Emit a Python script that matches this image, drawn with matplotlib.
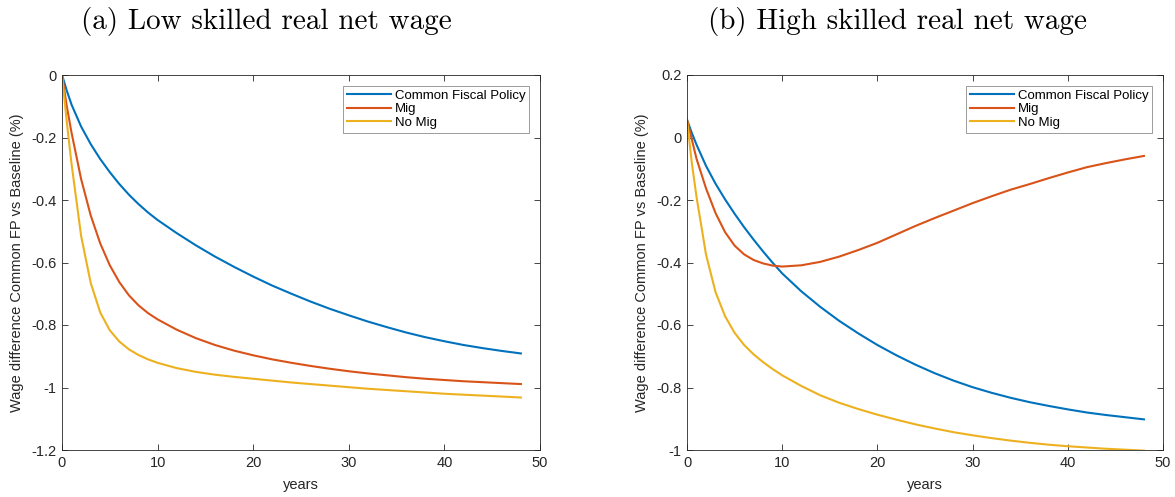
import numpy as np
import matplotlib
matplotlib.use("Agg")
from matplotlib import pyplot as plt
from matplotlib.ticker import FuncFormatter, MultipleLocator

plt.rcParams["font.family"] = ["Liberation Sans", "DejaVu Sans"]
plt.rcParams["axes.unicode_minus"] = False

years = [0, 0.5, 1, 2, 3, 4, 5, 6, 7, 8, 9, 10, 12, 14, 16, 18, 20, 22, 24, 26, 28,
         30, 32, 34, 36, 38, 40, 42, 44, 46, 48]

# (a) low skilled
low_cfp = [0, -0.05, -0.095, -0.165, -0.221, -0.269, -0.311, -0.349, -0.383, -0.413, -0.44, -0.464,
           -0.506, -0.545, -0.581, -0.614, -0.645, -0.674, -0.70, -0.725, -0.748,
           -0.769, -0.789, -0.807, -0.824, -0.839, -0.852, -0.864, -0.874, -0.883, -0.891]
low_mig = [0, -0.10, -0.185, -0.333, -0.449, -0.539, -0.609, -0.663, -0.705, -0.737, -0.762, -0.782,
           -0.815, -0.842, -0.864, -0.882, -0.897, -0.91, -0.921, -0.931, -0.94,
           -0.948, -0.955, -0.961, -0.967, -0.972, -0.976, -0.98, -0.983, -0.986, -0.989]
low_nomig = [0, -0.15, -0.285, -0.515, -0.665, -0.76, -0.817, -0.853, -0.878, -0.896, -0.91, -0.921,
             -0.938, -0.95, -0.959, -0.966, -0.972, -0.978, -0.984, -0.989, -0.994,
             -0.999, -1.004, -1.008, -1.012, -1.016, -1.02, -1.023, -1.026, -1.029, -1.032]

# (b) high skilled
high_cfp = [0.057, 0.015, -0.023, -0.091, -0.148, -0.198, -0.244, -0.287, -0.327, -0.365, -0.401, -0.435,
            -0.492, -0.542, -0.587, -0.627, -0.664, -0.697, -0.727, -0.754, -0.778,
            -0.799, -0.817, -0.833, -0.847, -0.859, -0.87, -0.88, -0.888, -0.895, -0.902]
high_mig = [0.057, -0.005, -0.068, -0.163, -0.242, -0.303, -0.346, -0.374, -0.392, -0.403, -0.41, -0.413,
            -0.409, -0.398, -0.381, -0.36, -0.337, -0.31, -0.283, -0.258, -0.234,
            -0.21, -0.188, -0.167, -0.149, -0.13, -0.112, -0.095, -0.082, -0.07, -0.059]
high_nomig = [0.057, -0.08, -0.19, -0.375, -0.495, -0.572, -0.625, -0.664, -0.694, -0.719, -0.741, -0.761,
              -0.795, -0.825, -0.849, -0.869, -0.887, -0.903, -0.918, -0.931, -0.943,
              -0.953, -0.962, -0.97, -0.977, -0.983, -0.988, -0.992, -0.996, -0.999, -1.002]

labels = ["Common Fiscal Policy", "Mig", "No Mig"]
colors = ["#0072BD", "#D95319", "#EDB120"]
titles = ["(a) Low skilled real net wage", "(b) High skilled real net wage"]
ylabel = "Wage difference Common FP vs Baseline (%)"

fig = plt.figure(figsize=(11.75, 4.97), dpi=100)
ax_a = fig.add_axes([62 / 1175, 47 / 497, 478 / 1175, 375 / 497])
ax_b = fig.add_axes([687 / 1175, 47 / 497, 476 / 1175, 375 / 497])

panels = [
    (ax_a, [low_cfp, low_mig, low_nomig], (-1.2, 0)),
    (ax_b, [high_cfp, high_mig, high_nomig], (-1.0, 0.2)),
]

fmt = FuncFormatter(lambda v, p: "%g" % round(v, 2))
edge = "#262626"

for ax, series, ylim in panels:
    for vals, lab, col in zip(series, labels, colors):
        ax.plot(years, vals, color=col, lw=1.5, label=lab)
    ax.set_xlim(0, 50)
    ax.set_ylim(*ylim)
    ax.xaxis.set_major_locator(MultipleLocator(10))
    ax.yaxis.set_major_locator(MultipleLocator(0.2))
    ax.yaxis.set_major_formatter(fmt)
    ax.tick_params(direction="in", top=True, right=True, length=4.5, width=0.6,
                   color=edge, labelcolor=edge, labelsize=10.5, pad=4)
    for sp in ax.spines.values():
        sp.set_color(edge)
        sp.set_linewidth(0.6)
    ax.set_xlabel("years", fontsize=10.5, color=edge)
    ax.xaxis.set_label_coords(0.5, -0.075)
    ax.set_ylabel(ylabel, fontsize=10.5, color=edge)
    ax.yaxis.set_label_coords(-0.08, 0.5)
    leg = ax.legend(loc="upper right", fontsize=9.5, frameon=True, fancybox=False,
                    framealpha=1, edgecolor="#8c8c8c", handlelength=3.3,
                    handletextpad=0.3, labelspacing=0.1, borderpad=0.3,
                    borderaxespad=0.8)
    leg.get_frame().set_linewidth(0.6)

fig.text(266 / 1175, 1 - 21 / 497, titles[0], family="cmr10", fontsize=21,
         ha="center", va="center")
fig.text(897 / 1175, 1 - 21 / 497, titles[1], family="cmr10", fontsize=21,
         ha="center", va="center")

fig.savefig("out.png", dpi=100)
